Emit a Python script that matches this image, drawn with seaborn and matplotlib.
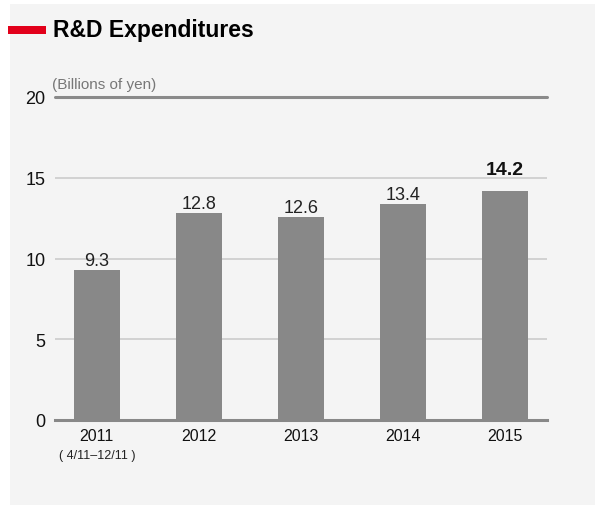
import matplotlib
matplotlib.use("Agg")
import matplotlib.pyplot as plt
from matplotlib.patches import Rectangle
import seaborn as sns
import pandas as pd

# R&D expenditures, billions of yen
years = ["2011", "2012", "2013", "2014", "2015"]
values = [9.3, 12.8, 12.6, 13.4, 14.2]
value_labels = ["9.3", "12.8", "12.6", "13.4", "14.2"]
y_ticks = [0, 5, 10, 15, 20]
title = "R&D Expenditures"
unit_label = "(Billions of yen)"
first_period_note = "( 4/11–12/11 )"

df = pd.DataFrame({"year": years, "value": values})

sns.set_theme(style="white")
plt.rcParams["font.family"] = ["Liberation Sans", "DejaVu Sans"]

W, H = 595, 506
fig = plt.figure(figsize=(W / 100, H / 100), dpi=100)
fig.patch.set_facecolor("white")

# light panel behind the whole chart
fig.patches.append(Rectangle((10 / W, 0), 1 - 10 / W, 1 - 5 / H,
                             transform=fig.transFigure, facecolor="#f4f4f4",
                             edgecolor="none", zorder=-2))

# title with red marker
fig.patches.append(Rectangle((8 / W, 1 - 34.5 / H), 38 / W, 7 / H,
                             transform=fig.transFigure, facecolor="#e2001a",
                             edgecolor="none", zorder=-1))
fig.text(53 / W, 1 - 37.5 / H, title, fontsize=16.5, fontweight="bold",
         color="black", va="baseline", ha="left")

ax = fig.add_axes([55 / W, 85 / H, (547 - 55) / W, (421 - 98) / H])
ax.set_facecolor("none")

sns.barplot(data=df, x="year", y="value", color="#888888", width=0.45,
            saturation=1, linewidth=0, edgecolor="none", ax=ax, zorder=3)

ax.set_ylim(0, 20)
ax.set_xlim(-0.41, 4.41)
ax.set_yticks(y_ticks)
ax.set_yticklabels([str(t) for t in y_ticks])
ax.tick_params(axis="y", length=0, pad=7, labelsize=13, labelcolor="#111111")
ax.tick_params(axis="x", length=0, pad=6, labelsize=11.5, labelcolor="#111111")
ax.set_xlabel("")
ax.set_ylabel("")

# gridlines: light for inner ticks, darker rule at the top
for t in y_ticks[1:-1]:
    ax.axhline(t, color="#c8c8c8", lw=1.1, zorder=1)
ax.axhline(20, color="#8a8a8a", lw=2.2, zorder=1, clip_on=False)

for s in ["left", "right", "top"]:
    ax.spines[s].set_visible(False)
ax.spines["bottom"].set_color("#888888")
ax.spines["bottom"].set_linewidth(2.2)
ax.spines["bottom"].set_zorder(4)

# value labels above the bars; the latest year in bold
for i, (v, lab) in enumerate(zip(values, value_labels)):
    if i == len(values) - 1:
        ax.annotate(lab, (i, v), xytext=(0, 12), textcoords="offset points",
                    ha="center", va="baseline", fontsize=14, fontweight="bold",
                    color="#111111", zorder=5)
    else:
        ax.annotate(lab, (i, v), xytext=(0, 3.6), textcoords="offset points",
                    ha="center", va="baseline", fontsize=13,
                    color="#222222", zorder=5)

# unit label above the axis
ax.annotate(unit_label, (0, 20), xycoords=("axes fraction", "data"),
            xytext=(-2, 6.5), textcoords="offset points", ha="left",
            va="baseline", fontsize=11, color="#777777")

# period note under the first year
fig.text(97 / W, 1 - 459 / H, first_period_note, fontsize=9,
         color="#222222", ha="center", va="baseline")

fig.savefig("out.png", dpi=100)
